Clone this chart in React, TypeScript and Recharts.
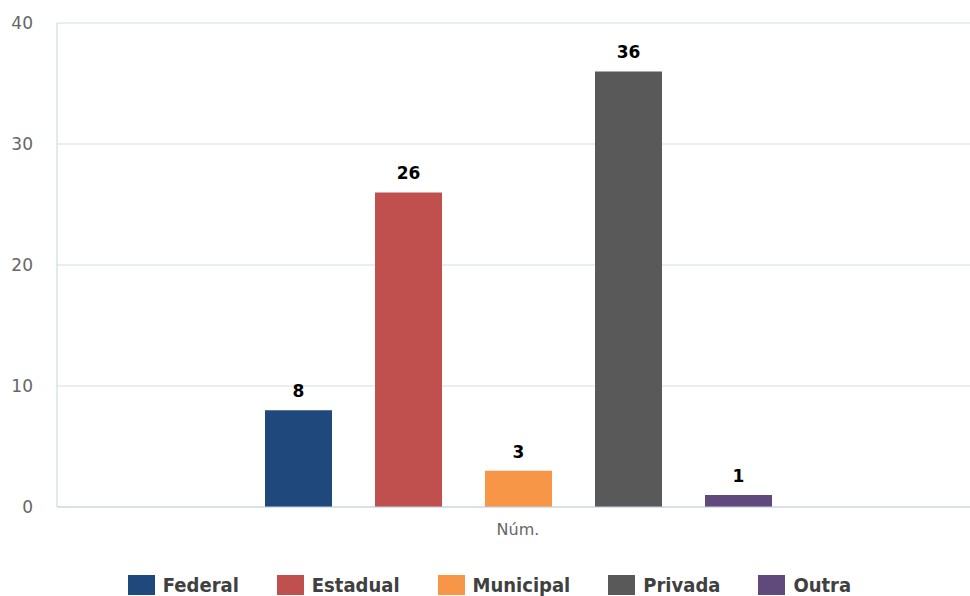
import React from 'react';
import { BarChart, Bar, XAxis, YAxis, CartesianGrid, Legend, LabelList } from 'recharts';

const categories = ['Núm.'];
const seriesNames = ['Federal', 'Estadual', 'Municipal', 'Privada', 'Outra'];
const seriesValues = [8, 26, 3, 36, 1];
const seriesColors = ['#1f497d', '#c0504d', '#f79646', '#595959', '#604a7b'];
const yTicks = [0, 10, 20, 30, 40];

const data = categories.map((cat) => {
  const row: Record<string, string | number> = { name: cat };
  seriesNames.forEach((s, i) => { row[s] = seriesValues[i]; });
  return row;
});

const FONT = '"DejaVu Sans", sans-serif';

const LegendContent = () => (
  <div style={{ display: 'flex', justifyContent: 'center', alignItems: 'center', paddingTop: 24, paddingLeft: 0 }}>
    {seriesNames.map((s, i) => (
      <div key={s} style={{ display: 'flex', alignItems: 'center', marginRight: i < seriesNames.length - 1 ? 38 : 0 }}>
        <span style={{ display: 'inline-block', width: 27, height: 20, background: seriesColors[i], marginRight: 8 }} />
        <span style={{ fontFamily: '"DejaVu Sans Condensed", "DejaVu Sans", sans-serif', fontStretch: 'condensed', fontWeight: 'bold', fontSize: 20, color: '#404040' }}>{s}</span>
      </div>
    ))}
  </div>
);

const App: React.FC = () => {
  return (
    <div style={{ position: 'absolute', left: 0, top: 0, width: 970, height: 596, overflow: 'hidden', background: '#fff' }}>
      <BarChart
        width={979}
        height={596}
        data={data}
        margin={{ top: 23, right: 0, left: 0, bottom: 0 }}
        barSize={67}
        barGap={43}
      >
        <CartesianGrid vertical={false} stroke="#d5dde6" />
        <XAxis
          dataKey="name"
          height={42}
          stroke="#c5d3e2"
          tickLine={false}
          tickSize={6}
          tickMargin={11}
          tick={{ fill: '#666666', fontSize: 16, fontFamily: FONT }}
        />
        <YAxis
          width={57}
          domain={[0, 40]}
          ticks={yTicks}
          stroke="#c5d3e2"
          tickLine={false}
          axisLine={{ stroke: '#c5d3e2' }}
          tickSize={6}
          tickMargin={18}
          tick={{ fill: '#666666', fontSize: 17, fontFamily: FONT }}
        />
        <Legend verticalAlign="bottom" height={47} content={<LegendContent />} />
        {seriesNames.map((s, i) => (
          <Bar key={s} dataKey={s} fill={seriesColors[i]} isAnimationActive={false}>
            <LabelList dataKey={s} position="top" offset={13} style={{ fill: '#000', fontWeight: 'bold', fontSize: 17, fontFamily: FONT }} />
          </Bar>
        ))}
      </BarChart>
    </div>
  );
};

export default App;
